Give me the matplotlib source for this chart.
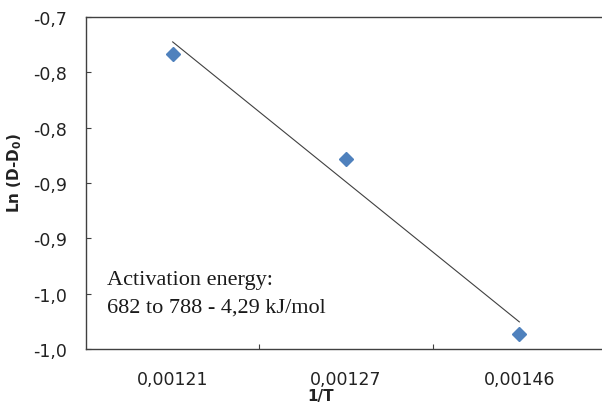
import numpy as np
import matplotlib
matplotlib.use("Agg")
import matplotlib.pyplot as plt

# data
x_labels = ["0,00121", "0,00127", "0,00146"]
ln_d = [-0.733, -0.828, -0.986]
y_ticks = [-1.00, -0.95, -0.90, -0.85, -0.80, -0.75, -0.70]
y_tick_labels = ["-1,0", "-1,0", "-0,9", "-0,9", "-0,8", "-0,8", "-0,7"]
note_lines = ["Activation energy:", "682 to 788 - 4,29 kJ/mol"]

W, H = 602, 414
fig = plt.figure(figsize=(W / 100, H / 100), dpi=100)
# plot area runs past the right edge of the picture, as in the reference
ax = fig.add_axes([86 / W, (H - 350) / H, 520 / W, 332 / H])

xs = np.arange(1, len(ln_d) + 1)

# linear trend line over category index (Excel style)
k, b = np.polyfit(xs, ln_d, 1)
ax.plot(xs[[0, -1]], k * xs[[0, -1]] + b, color="#404040", lw=0.8, zorder=2)

ax.plot(xs, ln_d, ls="none", marker="D", ms=7.2, color="#4F81BD",
        mec="#4F81BD", zorder=3)

ax.set_xlim(0.5, len(ln_d) + 0.5)
ax.set_ylim(-1.0, -0.7)

ax.set_xticks(xs)
ax.set_xticklabels(x_labels)
ax.set_xticks(xs[:-1] + 0.5, minor=True)
ax.tick_params(axis="x", which="major", length=0, pad=15, labelsize=12.5,
               labelcolor="#222222")
ax.tick_params(axis="x", which="minor", direction="in", length=3.6,
               width=0.8, color="#404040")

ax.set_yticks(y_ticks)
ax.set_yticklabels(y_tick_labels)
ax.tick_params(axis="y", direction="in", length=3.6, width=0.8,
               color="#404040", pad=13.7, labelsize=12.5, labelcolor="#222222")

for side in ("left", "bottom", "top"):
    ax.spines[side].set_color("#404040")
    ax.spines[side].set_linewidth(1.0)
ax.spines["right"].set_visible(False)

ax.set_ylabel(r"Ln (D-D$_\mathbf{0}$)", fontsize=11, fontweight="bold",
              ha="center", va="center", color="#222222")
ax.yaxis.set_label_coords((15 - 86) / 520, (350 - 172.5) / 332)
ax.set_xlabel("1/T", fontsize=11, fontweight="bold", ha="center",
              va="center", color="#222222")
ax.xaxis.set_label_coords((321 - 86) / 520, (350 - 397) / 332)

for i, line in enumerate(note_lines):
    fig.text(107 / W, (H - 285 - 28 * i) / H, line, family="Liberation Serif",
             fontsize=16, va="baseline", ha="left", color="#1a1a1a")

fig.savefig("out.png", dpi=100)
